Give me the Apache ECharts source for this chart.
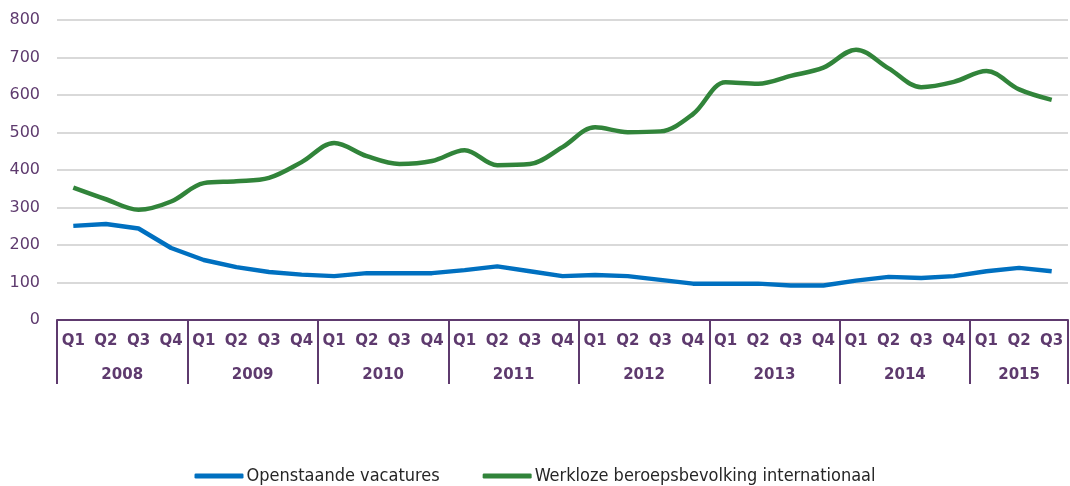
<!DOCTYPE html>
<html><head><meta charset="utf-8">
<script src="https://cdn.jsdelivr.net/npm/echarts@6/dist/echarts.min.js"></script>
<style>html,body{margin:0;padding:0;background:#fff}#c{width:1070px;height:486px}</style>
</head><body><div id="c"></div>
<script>
const years = ['2008','2009','2010','2011','2012','2013','2014','2015'];
const quarters = ['Q1','Q2','Q3','Q4','Q1','Q2','Q3','Q4','Q1','Q2','Q3','Q4','Q1','Q2','Q3','Q4','Q1','Q2','Q3','Q4','Q1','Q2','Q3','Q4','Q1','Q2','Q3','Q4','Q1','Q2','Q3'];
const vacatures = [251,256,244,192,160,141,128,121,117,125,125,125,133,143,130,117,120,117,107,97,97,97,92,92,105,115,112,117,130,139,130];
const werkloze = [353,322,294,316,365,370,379,421,472,437,416,424,453,413,416,461,514,501,503,549,634,630,651,673,721,671,621,635,664,615,587];
const seriesNames = ['Openstaande vacatures','Werkloze beroepsbevolking internationaal'];
const yearCenters = [2,6,10,14,18,22,26,29.5];

const purple = '#5E3A6E';
const chart = echarts.init(document.getElementById('c'));
chart.setOption({
  animation:false,
  grid:{left:57,right:2,top:20,bottom:166},
  legend:{
    top:462,left:'center',itemWidth:49,itemHeight:5,itemGap:43,icon:'roundRect',
    textStyle:{fontFamily:'DejaVu Sans Condensed, DejaVu Sans',fontSize:18,color:'#262626',padding:[0,0,0,-2]},
    data:seriesNames
  },
  xAxis:[{
    type:'category',data:quarters,boundaryGap:true,
    axisLine:{lineStyle:{color:purple,width:2}},
    axisTick:{show:true,length:64,lineStyle:{color:purple,width:2},interval:function(i){return i%4===0;}},
    axisLabel:{interval:0,color:purple,fontWeight:'bold',fontFamily:'DejaVu Sans',fontSize:15,margin:14}
  },{
    type:'value',min:0,max:31,position:'bottom',offset:40,
    axisLine:{show:false},axisTick:{show:false},splitLine:{show:false},
    axisLabel:{customValues:yearCenters,color:purple,fontWeight:'bold',fontFamily:'DejaVu Sans',fontSize:15,
      formatter:function(v){const i=yearCenters.indexOf(v);return i>=0?years[i]:'';}}
  }],
  yAxis:{
    type:'value',min:0,max:800,interval:100,
    axisLine:{show:false},axisTick:{show:false},
    axisLabel:{color:purple,fontFamily:'DejaVu Sans',fontSize:16,margin:17},
    splitLine:{lineStyle:{color:'#D9D9D9',width:2}}
  },
  series:[{
    name:seriesNames[0],type:'line',data:vacatures,symbol:'none',
    lineStyle:{color:'#0070C0',width:4.5},itemStyle:{color:'#0070C0'}
  },{
    name:seriesNames[1],type:'line',data:werkloze,symbol:'none',smooth:0.35,
    lineStyle:{color:'#31843A',width:4.5},itemStyle:{color:'#31843A'}
  }]
});
</script></body></html>
